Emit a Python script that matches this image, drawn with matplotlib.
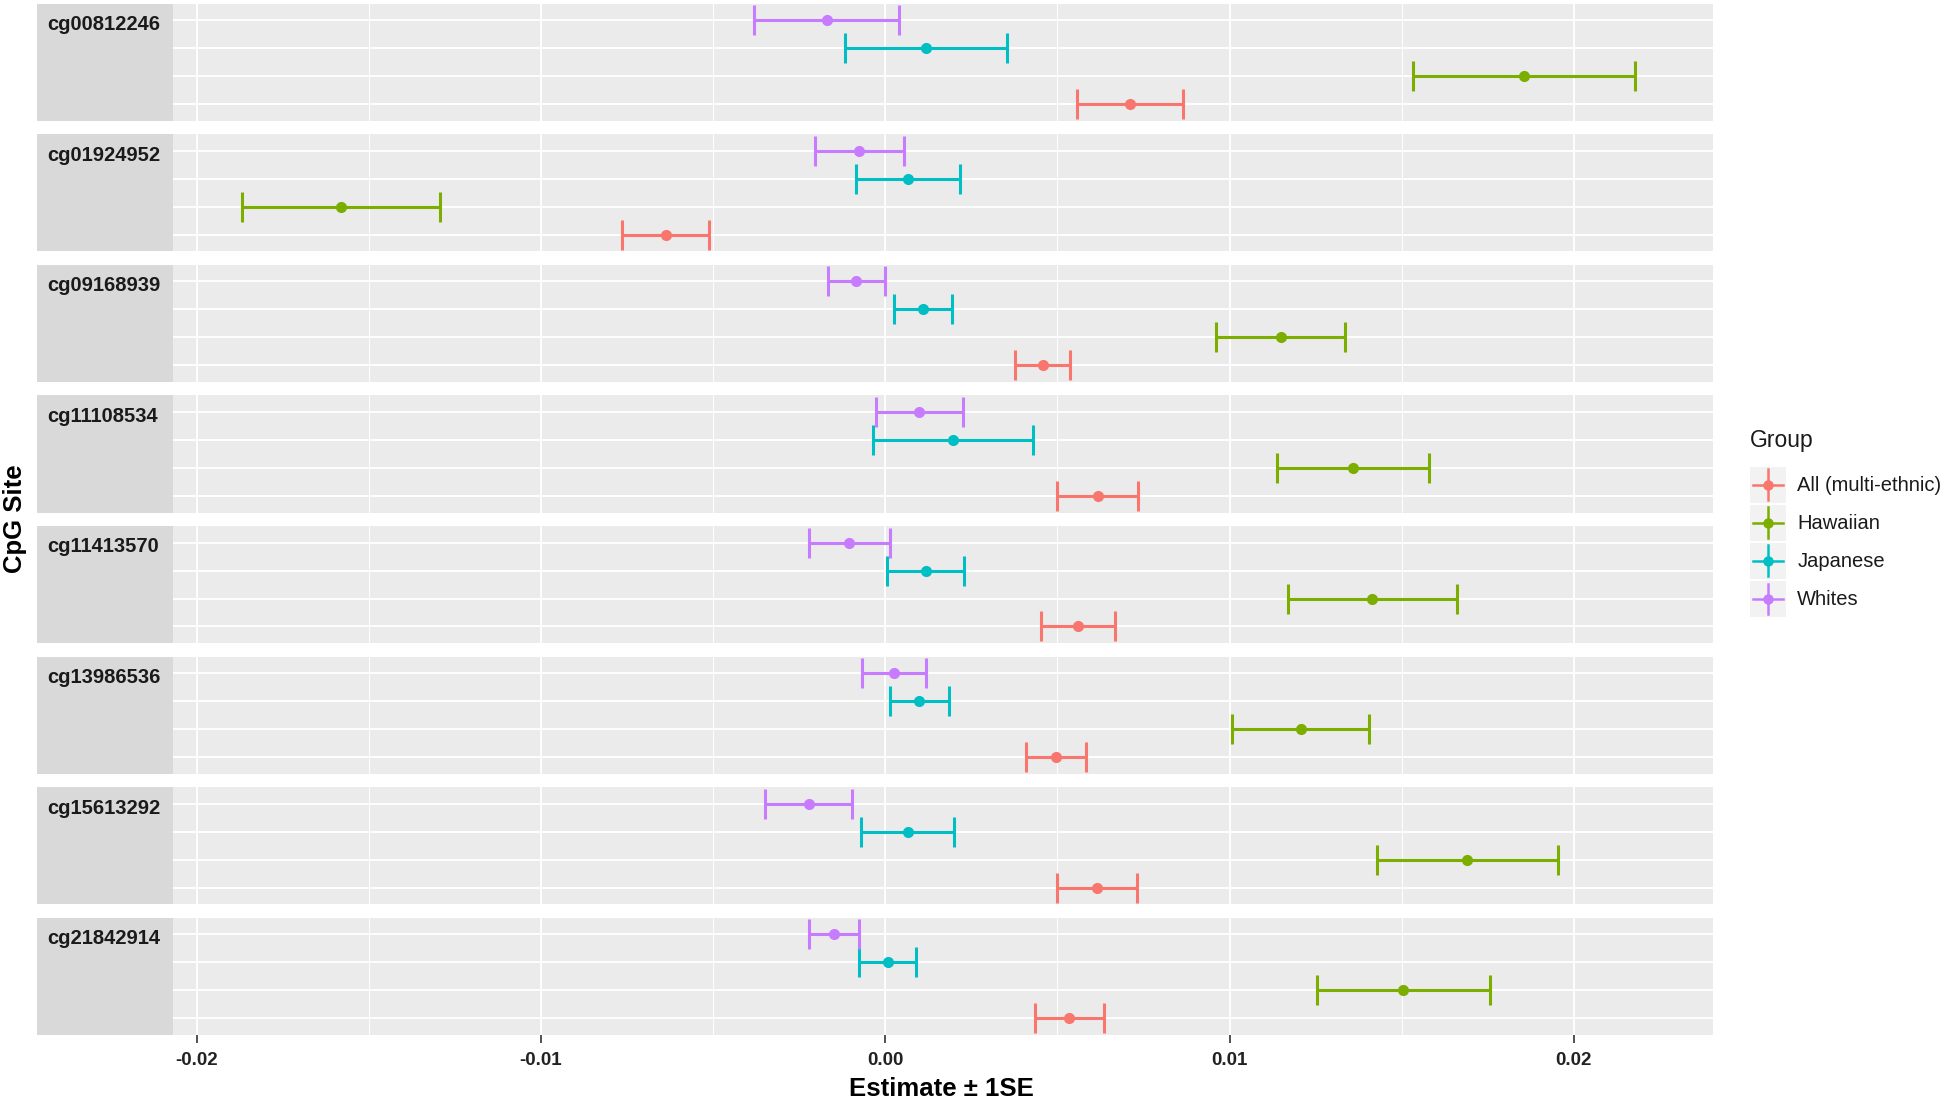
import matplotlib
matplotlib.use("Agg")
import matplotlib.pyplot as plt
from matplotlib.legend_handler import HandlerBase
from matplotlib.lines import Line2D
from matplotlib.patches import Rectangle
import numpy as np

plt.rcParams["font.family"] = ["Liberation Sans", "DejaVu Sans"]

SITES = ["cg00812246", "cg01924952", "cg09168939", "cg11108534",
         "cg11413570", "cg13986536", "cg15613292", "cg21842914"]
GROUPS = ["All (multi-ethnic)", "Hawaiian", "Japanese", "Whites"]
COLORS = ["#F8766D", "#7CAE00", "#00BFC4", "#C77CFF"]

# estimate and standard error per site (same order as SITES)
est_all = [0.00711, -0.00638, 0.00457, 0.00617, 0.00559, 0.00496, 0.00615, 0.00534]
se_all = [0.00154, 0.00126, 0.00081, 0.00117, 0.00107, 0.00088, 0.00117, 0.00100]
est_haw = [0.01855, -0.01580, 0.01149, 0.01359, 0.01415, 0.01207, 0.01691, 0.01505]
se_haw = [0.00322, 0.00287, 0.00187, 0.00221, 0.00245, 0.00199, 0.00262, 0.00250]
est_jap = [0.00118, 0.00066, 0.00109, 0.00196, 0.00118, 0.00099, 0.00065, 0.00007]
se_jap = [0.00235, 0.00150, 0.00084, 0.00232, 0.00112, 0.00086, 0.00136, 0.00083]
est_whi = [-0.00170, -0.00075, -0.00084, 0.00099, -0.00104, 0.00026, -0.00222, -0.00148]
se_whi = [0.00210, 0.00130, 0.00082, 0.00127, 0.00118, 0.00093, 0.00126, 0.00072]

ESTS = [est_all, est_haw, est_jap, est_whi]
SES = [se_all, se_haw, se_jap, se_whi]

XMAJOR = [-0.02, -0.01, 0.0, 0.01, 0.02]
XMINOR = [-0.015, -0.005, 0.005, 0.015]
XLABELS = ["-0.02", "-0.01", "0.00", "0.01", "0.02"]

W, H = 1946, 1101
fig = plt.figure(figsize=(W / 100, H / 100), dpi=100)


def px(x0, y0, x1, y1):
    return [x0 / W, 1 - y1 / H, (x1 - x0) / W, (y1 - y0) / H]


strip_x0, data_x0, data_x1 = 37, 172.5, 1713
top0, step, ph = 3.5, 130.6, 117.3

for i, site in enumerate(SITES):
    top = top0 + i * step
    sax = fig.add_axes(px(strip_x0, top, data_x0, top + ph))
    sax.set_facecolor("#D9D9D9")
    sax.set_xticks([]); sax.set_yticks([])
    for s in sax.spines.values():
        s.set_visible(False)
    sax.text(10 / (data_x0 - strip_x0), 1 - 11.5 / ph, site, transform=sax.transAxes,
             ha="left", va="top", fontsize=14.5, fontweight="bold", color="#1A1A1A")

    ax = fig.add_axes(px(data_x0, top, data_x1, top + ph))
    ax.set_facecolor("#EBEBEB")
    for s in ax.spines.values():
        s.set_visible(False)
    ax.set_xlim(-0.0207, 0.02404)
    ax.set_ylim(0.4, 4.6)
    ax.set_xticks(XMAJOR)
    ax.set_xticks(XMINOR, minor=True)
    ax.set_yticks([1, 2, 3, 4])
    ax.grid(True, which="major", color="white", lw=1.3)
    ax.grid(True, which="minor", axis="x", color="white", lw=0.7)
    ax.set_axisbelow(True)
    ax.tick_params(axis="y", length=0, labelleft=False)
    ax.tick_params(axis="x", which="minor", length=0)
    if i == len(SITES) - 1:
        ax.set_xticklabels(XLABELS)
        ax.tick_params(axis="x", which="major", length=6, width=1.2, color="#333333",
                       pad=6.5, labelsize=13.5, labelcolor="#222222")
        for lbl in ax.get_xticklabels():
            lbl.set_fontweight("bold")
    else:
        ax.tick_params(axis="x", which="major", length=0, labelbottom=False)

    for g, (ests, ses, col) in enumerate(zip(ESTS, SES, COLORS)):
        ax.errorbar(ests[i], g + 1, xerr=ses[i], fmt="o", color=col, ms=7,
                    elinewidth=2.2, capsize=11, capthick=2.2, zorder=3)

fig.text(941 / W, 1 - 1089 / H, "Estimate ± 1SE", ha="center", va="center",
         fontsize=18.5, fontweight="bold")
fig.text(15 / W, 1 - 519 / H, "CpG Site", ha="center", va="center", rotation=90,
         fontsize=18.5, fontweight="bold")


class KeyHandler(HandlerBase):
    def create_artists(self, legend, orig_handle, xdescent, ydescent, width, height,
                       fontsize, trans):
        col = orig_handle.get_color()
        x0, y0 = -xdescent, -ydescent
        cx, cy = x0 + width / 2, y0 + height / 2
        bg = Rectangle((x0, y0), width, height, fc="#F2F2F2", ec="none", transform=trans)
        hl = Line2D([x0 + 2, x0 + width - 2], [cy, cy], color=col, lw=1.8, transform=trans)
        vl = Line2D([cx, cx], [y0 + 2, y0 + height - 2], color=col, lw=1.8, transform=trans)
        pt = Line2D([cx], [cy], marker="o", ms=6.5, color=col, transform=trans)
        return [bg, hl, vl, pt]


handles = [Line2D([], [], color=c) for c in COLORS]
fig.text(1750 / W, 1 - 441 / H, "Group", ha="left", va="center", fontsize=16.5,
         color="#1A1A1A")
fig.legend(handles, GROUPS, handler_map={Line2D: KeyHandler()},
           loc="upper left", bbox_to_anchor=(1750 / W, 1 - 466.5 / H),
           frameon=False, borderpad=0, borderaxespad=0, fontsize=14.5,
           handlelength=1.8, handleheight=2.38, labelspacing=0.1,
           handletextpad=0.55, labelcolor="#1A1A1A")

fig.savefig("out.png", dpi=100)
